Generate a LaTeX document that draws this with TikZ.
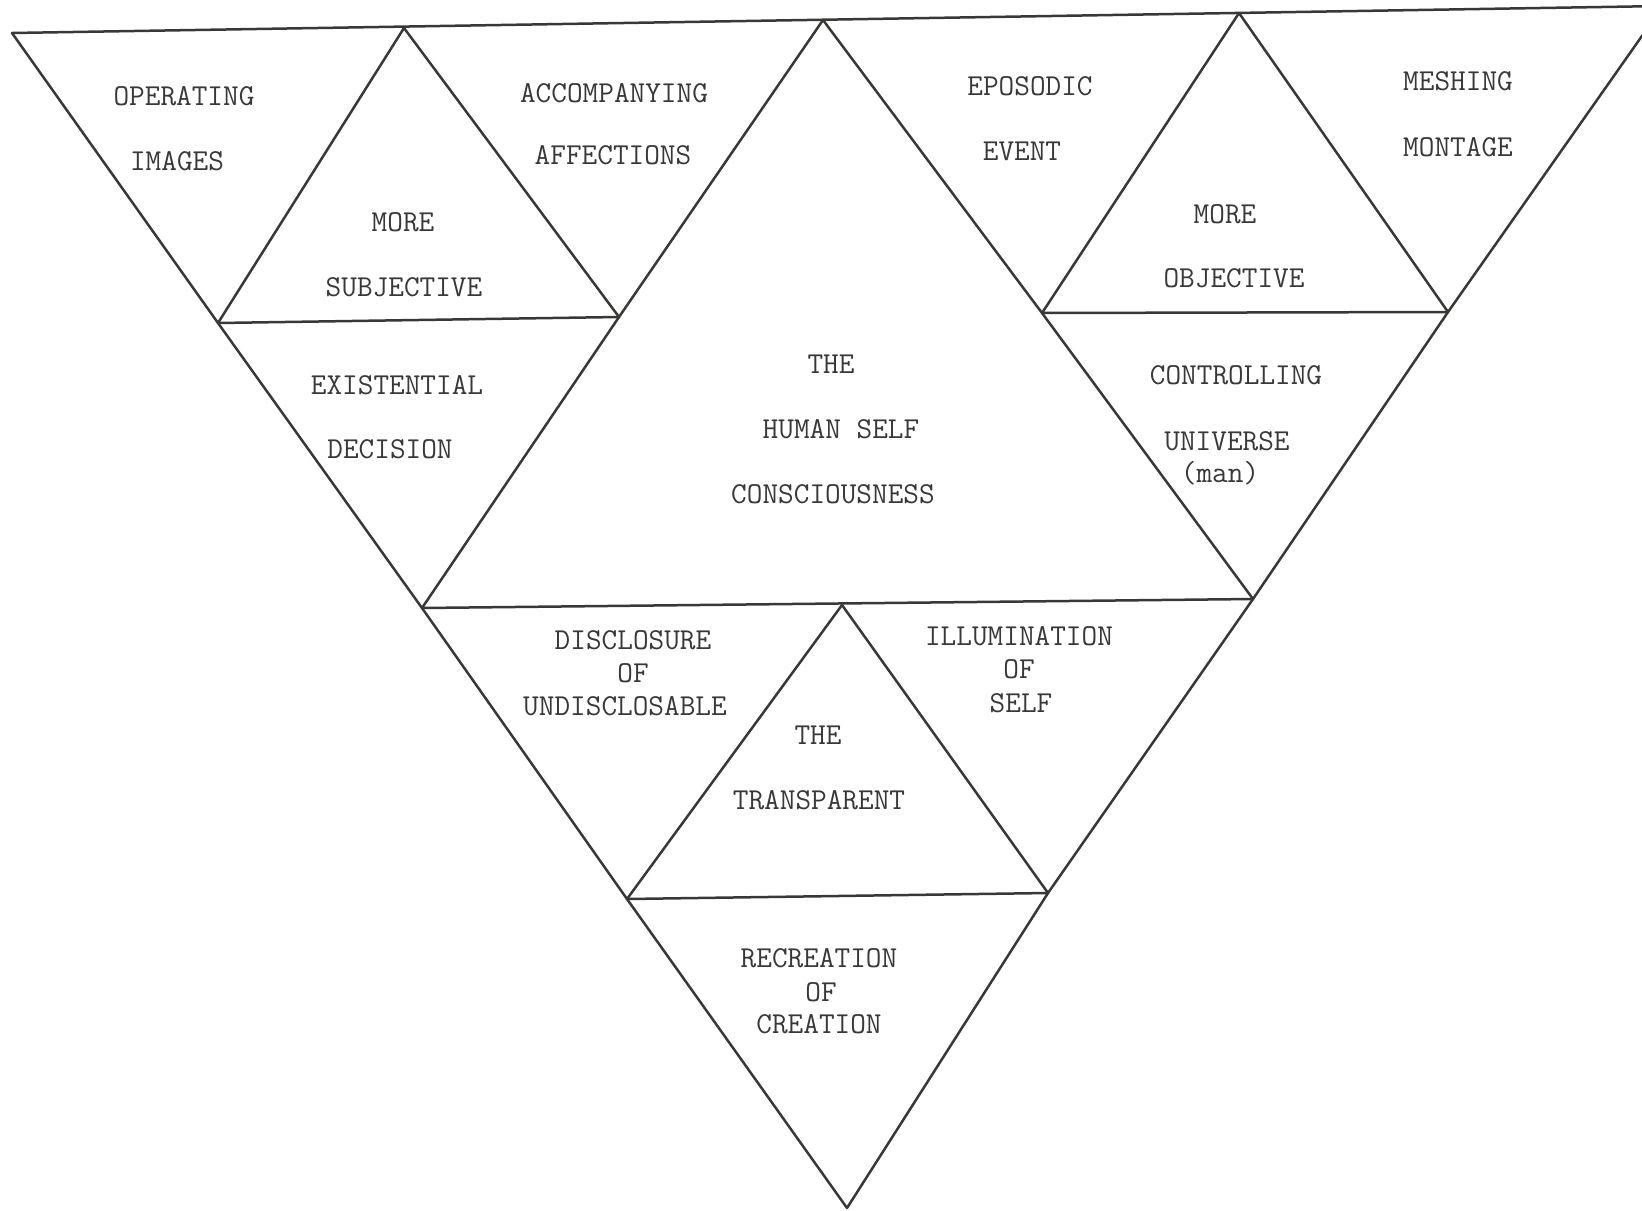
\documentclass[tikz,border=0pt]{standalone}
\begin{document}
\begin{tikzpicture}[x=0.5pt,y=-0.5pt,
  edge/.style={draw=ink,line width=1.25pt,line cap=round,line join=round},
  lbl/.style={text=ink,inner sep=0pt,font=\fontsize{15.2pt}{18pt}\selectfont\ttfamily}]
\definecolor{ink}{RGB}{58,56,54}
\useasboundingbox (0,0) rectangle (1642,1210);
\clip (0,0) rectangle (1642,1210);
% vertices
\coordinate (TL) at (12,33);
\coordinate (T1) at (404,28);
\coordinate (T2) at (823,20);
\coordinate (T3) at (1239,13);
\coordinate (TR) at (1663,6);
\coordinate (L1) at (218,323);
\coordinate (M1) at (619,317);
\coordinate (R1a) at (1042,313);
\coordinate (R1b) at (1448,312);
\coordinate (L2) at (422,608);
\coordinate (M2) at (842,605);
\coordinate (R2) at (1253,599);
\coordinate (L3) at (627,899);
\coordinate (R3) at (1048,893);
\coordinate (B) at (847,1208);
% outer triangle
\draw[edge] (TL) -- (TR);
\draw[edge] (TL) -- (L1) -- (L2) -- (L3) -- (B);
\draw[edge] (TR) -- (R1b) -- (R2) -- (R3) -- (B);
% inner lines
\draw[edge] (T1) -- (L1);
\draw[edge] (T1) -- (M1);
\draw[edge] (L1) -- (M1);
\draw[edge] (T2) -- (M1) -- (L2);
\draw[edge] (T2) -- (R1a) -- (R2);
\draw[edge] (T3) -- (R1a);
\draw[edge] (T3) -- (R1b);
\draw[edge] (R1a) -- (R1b);
\draw[edge] (L2) -- (R2);
\draw[edge] (M2) -- (L3);
\draw[edge] (M2) -- (R3);
\draw[edge] (L3) -- (R3);
% labels
\node[lbl] (op1) at (184,96) {OPERATING};
\node[lbl] (op2) at (177,161) {IMAGES};
\node[lbl] (ms1) at (403,222) {MORE};
\node[lbl] (ms2) at (404,287) {SUBJECTIVE};
\node[lbl] (ac1) at (614,93) {ACCOMPANYING};
\node[lbl] (ac2) at (613,155) {AFFECTIONS};
\node[lbl] (ep1) at (1030,86) {EPOSODIC};
\node[lbl] (ep2) at (1022,151) {EVENT};
\node[lbl] (mm1) at (1458,81) {MESHING};
\node[lbl] (mm2) at (1458,147) {MONTAGE};
\node[lbl] (mo1) at (1225,214) {MORE};
\node[lbl] (mo2) at (1234,278) {OBJECTIVE};
\node[lbl] (ex1) at (397,385) {EXISTENTIAL};
\node[lbl] (ex2) at (390,449) {DECISION};
\node[lbl] (hs1) at (831,364) {THE};
\node[lbl] (hs2) at (841,429) {HUMAN SELF};
\node[lbl] (hs3) at (833,494) {CONSCIOUSNESS};
\node[lbl] (cu1) at (1236,375) {CONTROLLING};
\node[lbl] (cu2) at (1227,441) {UNIVERSE};
\node[lbl] (cu3) at (1220,473) {(man)};
\node[lbl] (di1) at (633,640) {DISCLOSURE};
\node[lbl] (di2) at (633,673) {OF};
\node[lbl] (di3) at (625,706) {UNDISCLOSABLE};
\node[lbl] (il1) at (1019,636) {ILLUMINATION};
\node[lbl] (il2) at (1019,669) {OF};
\node[lbl] (il3) at (1021,703) {SELF};
\node[lbl] (tr1) at (818,735) {THE};
\node[lbl] (tr2) at (819,800) {TRANSPARENT};
\node[lbl] (rc1) at (819,958) {RECREATION};
\node[lbl] (rc2) at (821,992) {OF};
\node[lbl] (rc3) at (819,1024) {CREATION};
\end{tikzpicture}
\end{document}
